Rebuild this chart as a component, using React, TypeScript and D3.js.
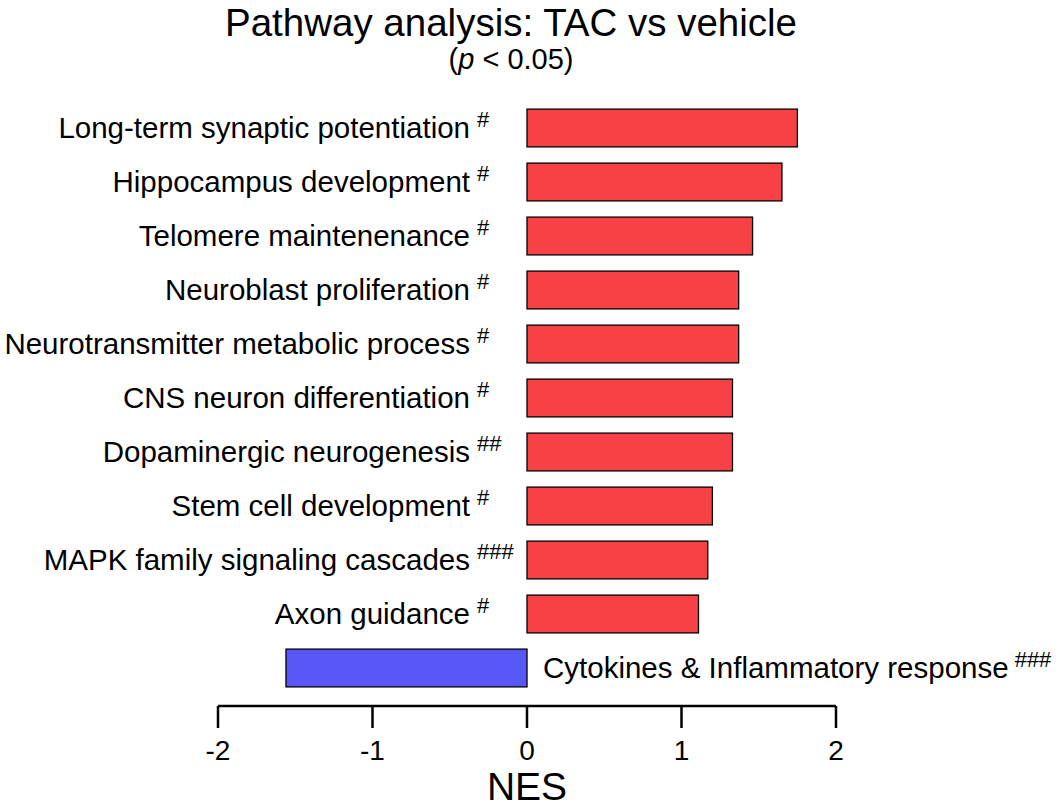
import * as d3 from "d3";

const pathways = [
  "Long-term synaptic potentiation",
  "Hippocampus development",
  "Telomere maintenenance",
  "Neuroblast proliferation",
  "Neurotransmitter metabolic process",
  "CNS neuron differentiation",
  "Dopaminergic neurogenesis",
  "Stem cell development",
  "MAPK family signaling cascades",
  "Axon guidance",
  "Cytokines & Inflammatory response",
];
const nes = [1.75, 1.65, 1.46, 1.37, 1.37, 1.33, 1.33, 1.2, 1.17, 1.11, -1.56];
const marks = ["#", "#", "#", "#", "#", "#", "##", "#", "###", "#", "###"];
const xTicks = [-2, -1, 0, 1, 2];

const W = 1060;
const H = 810;
const font = "Liberation Sans, Arial, Helvetica, sans-serif";

export default function App() {
  const x = d3.scaleLinear().domain([-2, 2]).range([218, 836]);
  const y = d3
    .scaleBand<string>()
    .domain(pathways)
    .range([101, 695])
    .paddingInner(0.3)
    .paddingOuter(0.15);
  const axisY = 706;
  const labelSize = 29.5;

  return (
    <svg
      width={W}
      height={H}
      style={{ position: "absolute", left: 0, top: 0, background: "#fff" }}
      fontFamily={font}
    >
      {/* title */}
      <text x={511} y={36} textAnchor="middle" fontSize={38.5}>
        Pathway analysis: TAC vs vehicle
      </text>
      <text x={511} y={69} textAnchor="middle" fontSize={29}>
        (<tspan fontStyle="italic">p</tspan> &lt; 0.05)
      </text>

      {/* bars + labels */}
      {pathways.map((p, i) => {
        const v = nes[i];
        const y0 = y(p)!;
        const bw = y.bandwidth();
        const cy = y0 + bw / 2;
        const x0 = Math.min(x(0), x(v));
        const w = Math.abs(x(v) - x(0));
        const pos = v >= 0;
        return (
          <g key={p}>
            <rect
              x={x0}
              y={y0}
              width={w}
              height={bw}
              fill={pos ? "#F84145" : "#5858F9"}
              stroke="#000"
              strokeWidth={1.3}
            />
            {pos ? (
              <>
                <text x={470} y={cy + 10} textAnchor="end" fontSize={labelSize}>
                  {p}
                </text>
                <text x={477} y={cy - 1} fontSize={22}>
                  {marks[i]}
                </text>
              </>
            ) : (
              <text x={x(0) + 16} y={cy + 10} fontSize={labelSize}>
                {p}
                <tspan dx={6} dy={-11} fontSize={22}>
                  {marks[i]}
                </tspan>
              </text>
            )}
          </g>
        );
      })}

      {/* x axis */}
      <line x1={x(-2)} x2={x(2)} y1={axisY} y2={axisY} stroke="#000" strokeWidth={2.5} />
      {xTicks.map((t) => (
        <g key={t}>
          <line x1={x(t)} x2={x(t)} y1={axisY} y2={axisY + 22} stroke="#000" strokeWidth={2.5} />
          <text x={x(t)} y={760} textAnchor="middle" fontSize={28}>
            {t}
          </text>
        </g>
      ))}
      <text x={x(0)} y={800} textAnchor="middle" fontSize={39}>
        NES
      </text>
    </svg>
  );
}
